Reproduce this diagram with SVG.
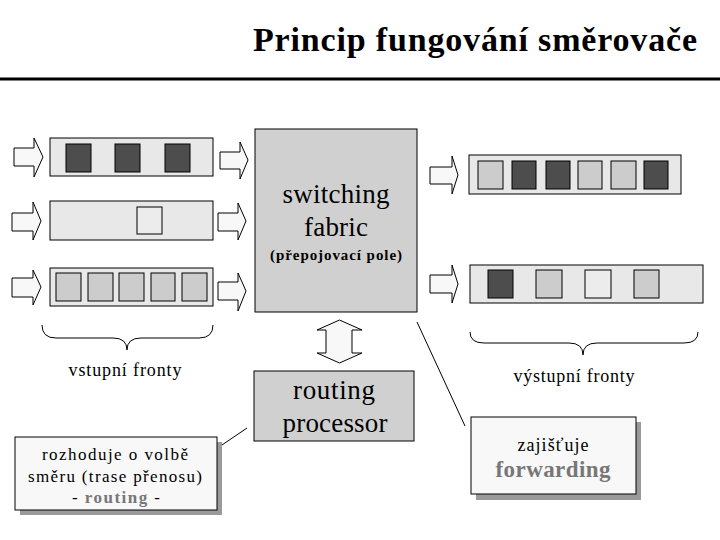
<svg xmlns="http://www.w3.org/2000/svg" width="720" height="540" viewBox="0 0 720 540">
<style>
.q{fill:#e8e8e8;stroke:#000;stroke-width:1}
.dk{fill:#4d4d4d;stroke:#000;stroke-width:1}
.lt{fill:#cccccc;stroke:#000;stroke-width:1}
.vl{fill:#ececec;stroke:#000;stroke-width:1}
.ar{fill:#f8f8f8;stroke:#000;stroke-width:1}
.big{fill:#d0d0d0;stroke:#000;stroke-width:1}
.box{fill:#f8f8f8;stroke:#000;stroke-width:1}
.sh{fill:#9a9a9a}
text{font-family:'Liberation Serif','DejaVu Serif','Times New Roman',serif}
.t{text-anchor:middle;fill:#000}
.g{fill:#777;font-weight:bold}
.ln{fill:none;stroke:#000;stroke-width:1}
</style>
<rect width="720" height="540" fill="#fff"/>
<g id="title">
<text x="253" y="51" font-weight="bold" font-size="34" textLength="444" lengthAdjust="spacing">Princip fungování směrovače</text>
<line x1="0" y1="79" x2="720" y2="79" stroke="#000" stroke-width="3"/>
</g>
<g id="input-queues">
<rect class="q" x="50" y="138" width="163" height="38"/>
<rect class="dk" x="66" y="144" width="25" height="28"/>
<rect class="dk" x="115" y="144" width="25" height="28"/>
<rect class="dk" x="165" y="144" width="25" height="28"/>
<rect class="q" x="50" y="201" width="163" height="39"/>
<rect class="vl" x="137" y="207" width="25" height="27"/>
<rect class="q" x="50" y="268" width="163" height="38"/>
<rect class="lt" x="56" y="273" width="25" height="28"/>
<rect class="lt" x="88" y="273" width="25" height="28"/>
<rect class="lt" x="119" y="273" width="25" height="28"/>
<rect class="lt" x="151" y="273" width="24" height="28"/>
<rect class="lt" x="182" y="273" width="25" height="28"/>
</g>
<g id="output-queues">
<rect class="q" x="469" y="155" width="212" height="39"/>
<rect class="lt" x="478" y="161" width="25" height="28"/>
<rect class="dk" x="512" y="161" width="24" height="28"/>
<rect class="dk" x="546" y="161" width="24" height="28"/>
<rect class="lt" x="578" y="161" width="24" height="28"/>
<rect class="lt" x="611" y="161" width="25" height="28"/>
<rect class="dk" x="644" y="161" width="24" height="28"/>
<rect class="q" x="470" y="265" width="233" height="38"/>
<rect class="dk" x="488" y="270" width="25" height="28"/>
<rect class="lt" x="536" y="270" width="26" height="28"/>
<rect class="vl" x="585" y="270" width="26" height="28"/>
<rect class="lt" x="634" y="270" width="25" height="28"/>
</g>
<g id="arrows">
<polygon class="ar" points="14,148 34,148 34,138 43,157 34,177 34,166 14,166"/>
<polygon class="ar" points="220,152 240,152 240,142 248,160 240,179 240,169 220,169"/>
<polygon class="ar" points="12,213 33,213 33,202 41,221 33,240 33,231 12,231"/>
<polygon class="ar" points="218,213 238,213 238,203 246,221 238,240 238,231 218,231"/>
<polygon class="ar" points="12,278 33,278 33,270 41,287 33,305 33,297 12,297"/>
<polygon class="ar" points="218,282 238,282 238,273 246,291 238,311 238,300 218,300"/>
<polygon class="ar" points="430,167 452,167 452,156 458,175 452,194 452,184 430,184"/>
<polygon class="ar" points="430,275 452,275 452,265 458,284 452,303 452,293 430,293"/>
<polygon class="ar" points="339.5,320 362,330 352,330 352,353 362,353 339.5,363 317,353 326,353 326,330 317,330"/>
</g>
<g id="switching-fabric">
<rect class="big" x="255" y="129" width="162" height="183"/>
<text class="t" x="336" y="203" font-size="27" textLength="107">switching</text>
<text class="t" x="336" y="236" font-size="27" textLength="64">fabric</text>
<text class="t" x="336" y="260" font-size="15" font-weight="bold" textLength="132">(přepojovací pole)</text>
</g>
<g id="routing-processor">
<rect class="big" x="254" y="371" width="160" height="70"/>
<text class="t" x="334" y="399" font-size="27" textLength="82">routing</text>
<text class="t" x="335" y="432" font-size="27" textLength="105">processor</text>
</g>
<g id="braces">
<path class="ln" d="M42,325 Q42,338 56,338 L113,338 Q127,338 127,350 Q127,338 141,338 L199,338 Q213,338 213,325"/>
<text class="t" x="125" y="376" font-size="18" textLength="113">vstupní fronty</text>
<path class="ln" d="M470,332 Q470,343 484,343 L569,343 Q583,343 583,355 Q583,343 597,343 L684,343 Q698,343 698,332"/>
<text class="t" x="574" y="382" font-size="18" textLength="121">výstupní fronty</text>
</g>
<g id="connectors">
<line class="ln" x1="417" y1="322" x2="465" y2="426"/>
<line class="ln" x1="222" y1="445" x2="247" y2="428"/>
</g>
<g id="routing-note">
<rect class="sh" x="20" y="442" width="202" height="73"/>
<rect class="box" x="15" y="437" width="202" height="73"/>
<text class="t" x="115" y="460" font-size="17" textLength="146">rozhoduje o volbě</text>
<text class="t" x="115" y="482" font-size="17" textLength="174">směru (trase přenosu)</text>
<text class="t" x="116" y="503" font-size="17" textLength="88">- <tspan class="g">routing</tspan> -</text>
</g>
<g id="forwarding-note">
<rect class="sh" x="476" y="422" width="165" height="78"/>
<rect class="box" x="471" y="417" width="165" height="77"/>
<text class="t" x="553" y="451" font-size="18" textLength="71">zajišťuje</text>
<text class="t g" x="553" y="477" font-size="23" textLength="115">forwarding</text>
</g>
</svg>
